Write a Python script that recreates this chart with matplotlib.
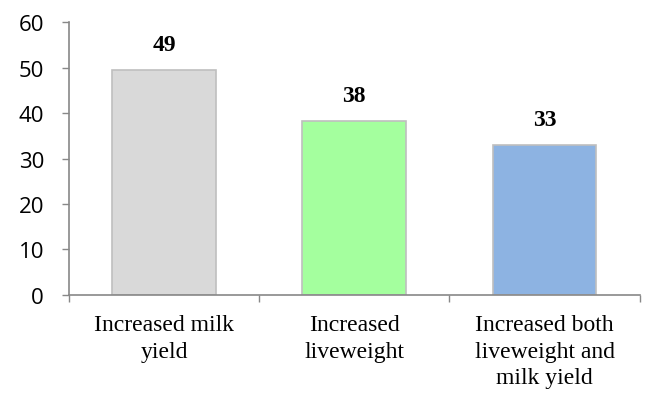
import numpy as np
import matplotlib.pyplot as plt

categories = ["Increased milk\nyield", "Increased\nliveweight",
              "Increased both\nliveweight and\nmilk yield"]
values = [49.4, 38.2, 32.9]
value_labels = ["49", "38", "33"]
colors = ["#D9D9D9", "#A4FF9E", "#8DB3E2"]

fig = plt.figure(figsize=(6.47, 4.02), dpi=100)
ax = fig.add_axes([0.1066, 0.2637, 0.882, 0.679])

x = np.arange(len(categories))
bars = ax.bar(x, values, width=0.545, color=colors, edgecolor="#BFBFBF", linewidth=1.2)

for b, lab in zip(bars, value_labels):
    ax.annotate(lab, (b.get_x() + b.get_width() / 2, b.get_height()),
                xytext=(0, 11), textcoords="offset points", ha="center", va="bottom",
                fontsize=17, fontweight="bold", family="Liberation Serif")

ax.set_xlim(-0.5, 2.5)
ax.set_ylim(0, 60)
ax.set_yticks(range(0, 61, 10))

# category boundaries get the tick marks, names sit in between
ax.set_xticks(np.arange(-0.5, 3, 1.0))
ax.set_xticklabels([])
ax.set_xticks(x, minor=True)
ax.set_xticklabels(categories, minor=True, family="Liberation Serif", fontsize=17,
                   linespacing=1.33)
ax.tick_params(axis="x", which="minor", length=0, pad=14)
ax.tick_params(axis="x", which="major", length=5, width=1, color="#888888", direction="out")
ax.tick_params(axis="y", length=5, width=1, color="#888888", direction="out",
               labelsize=16, pad=13)
for t in ax.get_yticklabels():
    t.set_family("Open Sans")

for s in ["top", "right"]:
    ax.spines[s].set_visible(False)
for s in ["left", "bottom"]:
    ax.spines[s].set_color("#888888")
    ax.spines[s].set_linewidth(1.2)

fig.savefig("out.png", dpi=100)
